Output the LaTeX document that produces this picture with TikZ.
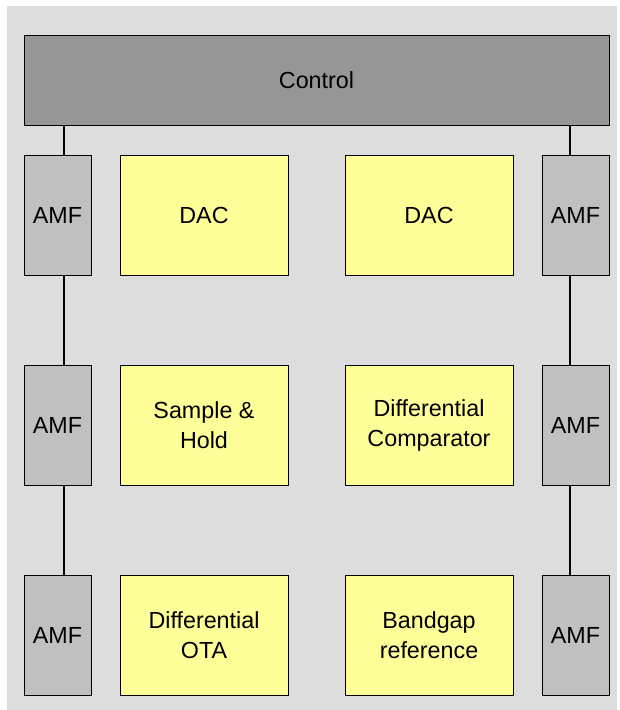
\documentclass[tikz,border=0pt]{standalone}
\usepackage{fontspec}
\setmainfont{Liberation Sans}
\definecolor{bgc}{HTML}{DDDDDD}
\definecolor{ctrlc}{HTML}{969696}
\definecolor{amfc}{HTML}{C0C0C0}
\definecolor{blkc}{HTML}{FFFF99}
\usetikzlibrary{positioning,calc}
\tikzset{
  box/.style={draw=black,line width=1pt,inner sep=0pt,align=center,font=\fontsize{23.3}{30}\selectfont},
  ctrlbox/.style={box,fill=ctrlc,minimum width=585pt,minimum height=90pt},
  amf/.style={box,fill=amfc,minimum width=67pt,minimum height=120pt},
  blk/.style={box,fill=blkc,minimum width=168pt,minimum height=120pt},
  link/.style={line width=2pt,draw=black},
}
\begin{document}
\begin{tikzpicture}[x=1pt,y=-1pt]
  \useasboundingbox (0,0) rectangle (620,710);
  \fill[bgc] (7,6) rectangle (617,710);
  \node[ctrlbox] (ctrl) at (316.5,80) {Control};
  % left column
  \node[amf] (al1) at (57.5,215) {AMF};
  \node[amf] (al2) at (57.5,425) {AMF};
  \node[amf] (al3) at (57.5,635) {AMF};
  % right column
  \node[amf] (ar1) at (575.5,215) {AMF};
  \node[amf] (ar2) at (575.5,425) {AMF};
  \node[amf] (ar3) at (575.5,635) {AMF};
  % blocks
  \node[blk] (dac1) at (204,215) {DAC};
  \node[blk] (sh) at (204,425) {Sample \&\\Hold};
  \node[blk] (ota) at (204,635) {Differential\\OTA};
  \node[blk] (dac2) at (429,215) {DAC};
  \node[blk] (cmp) at (429,425) {Differential\\Comparator};
  \node[blk] (bg) at (429,635) {Bandgap\\reference};
  % chains
  \draw[link] ([xshift=6.5pt]al1.north |- ctrl.south) -- ([xshift=6.5pt]al1.north);
  \draw[link] ([xshift=6.5pt]al1.south) -- ([xshift=6.5pt]al2.north);
  \draw[link] ([xshift=6.5pt]al2.south) -- ([xshift=6.5pt]al3.north);
  \draw[link] ([xshift=-5.5pt]ar1.north |- ctrl.south) -- ([xshift=-5.5pt]ar1.north);
  \draw[link] ([xshift=-5.5pt]ar1.south) -- ([xshift=-5.5pt]ar2.north);
  \draw[link] ([xshift=-5.5pt]ar2.south) -- ([xshift=-5.5pt]ar3.north);
\end{tikzpicture}
\end{document}
